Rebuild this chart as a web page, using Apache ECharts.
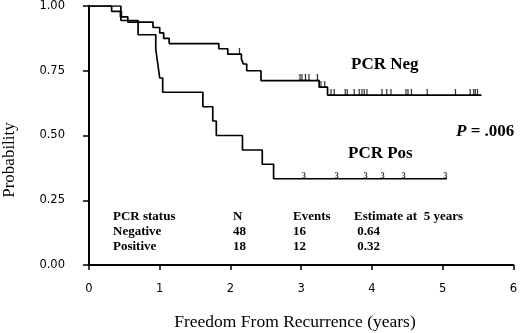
<!DOCTYPE html>
<html>
<head>
<meta charset="utf-8">
<script src="https://cdn.jsdelivr.net/npm/echarts@6/dist/echarts.min.js"></script>
<style>
  html, body { margin: 0; padding: 0; background: #fff; }
  #chart { width: 520px; height: 333px; }
</style>
</head>
<body>
<div id="chart"></div>
<script>
// Kaplan-Meier steps (time in years, survival probability)
const negTimes = [0, 0.32, 0.444, 0.549, 0.905, 1.0, 1.056, 1.134, 1.835, 1.962, 2.155, 2.183, 2.23, 2.432, 3.254, 3.373, 5.55];
const negSurv  = [1, 0.979, 0.958, 0.938, 0.917, 0.896, 0.875, 0.855, 0.835, 0.814, 0.795, 0.776, 0.75, 0.712, 0.6865, 0.656, 0.656];
const posTimes = [0, 0.451, 0.694, 0.944, 0.972, 1.0, 1.042, 1.61, 1.75, 1.80, 2.17, 2.45, 2.61, 5.06];
const posSurv  = [1, 0.944, 0.889, 0.833, 0.778, 0.722, 0.667, 0.611, 0.556, 0.5, 0.444, 0.389, 0.333, 0.333];

// censored observations
const negCensor = [0.46, 2.127, 2.98, 3.01, 3.06, 3.11, 3.23, 3.28, 3.33,
  3.42, 3.465, 3.62, 3.65, 3.75, 3.82, 3.86, 3.89, 3.93, 4.14, 4.21, 4.27,
  4.48, 4.51, 4.56, 4.78, 5.18, 5.39, 5.44, 5.46, 5.49];
const posCensor = [3.04, 3.50, 3.91, 4.15, 4.45, 5.04];

const xTickLabels = ["0", "1", "2", "3", "4", "5", "6"];
const yTickLabels = ["0.00", "0.25", "0.50", "0.75", "1.00"];

const tableRows = [
  ["PCR status", "N", "Events", "Estimate at  5 years"],
  ["Negative", "48", "16", " 0.64"],
  ["Positive", "18", "12", " 0.32"],
];

const serif = "'Liberation Serif', 'Times New Roman', serif";
const sans = "'DejaVu Sans', Verdana, sans-serif";

function stepAt(times, surv, t) {
  let v = surv[0];
  for (let i = 0; i < times.length; i++) {
    if (times[i] <= t) v = surv[i];
  }
  return v;
}

const zip = (a, b) => a.map((v, i) => [v, b[i]]);

const chart = echarts.init(document.getElementById("chart"));

const colX = [113, 233, 293, 354];
const rowY = [216.5, 231.5, 246.5];
const tableGraphics = [];
tableRows.forEach((row, r) => {
  row.forEach((txt, c) => {
    tableGraphics.push({
      type: "text",
      x: colX[c],
      y: rowY[r],
      style: {
        text: txt,
        fill: "#000",
        font: "bold 13px " + serif,
        textAlign: "left",
        textVerticalAlign: "middle",
      },
    });
  });
});

const censorLabel = (ch) => ({
  show: true,
  position: "top",
  distance: -2,
  formatter: ch,
  color: "#000",
  fontSize: 8.5,
  fontWeight: "bold",
  fontFamily: serif,
});

const option = {
  animation: false,
  backgroundColor: "#fff",
  grid: { left: 89, right: 5, top: 5, bottom: 68 },
  xAxis: [
    {
      type: "value", min: 0, max: 6, interval: 1,
      axisLine: { show: true, lineStyle: { color: "#000", width: 2 } },
      axisTick: { show: false }, axisLabel: { show: false }, splitLine: { show: false },
    },
    {
      type: "value", min: 0, max: 6, interval: 1, position: "bottom", offset: 10,
      axisLine: { show: false },
      axisTick: { show: true, length: 5, lineStyle: { color: "#000", width: 1.5 } },
      axisLabel: {
        show: true, margin: 8, color: "#000", fontSize: 11.5, fontFamily: sans,
        formatter: (v) => xTickLabels[Math.round(v)],
      },
      splitLine: { show: false },
    },
  ],
  yAxis: [
    {
      type: "value", min: 0, max: 1, interval: 0.25,
      axisLine: { show: true, lineStyle: { color: "#000", width: 2 } },
      axisTick: { show: false }, axisLabel: { show: false }, splitLine: { show: false },
    },
    {
      type: "value", min: 0, max: 1, interval: 0.25, position: "left", offset: 11,
      axisLine: { show: false },
      axisTick: { show: true, length: 6, lineStyle: { color: "#000", width: 1.5 } },
      axisLabel: {
        show: true, margin: 13, color: "#000", fontSize: 11.5, fontFamily: sans,
        formatter: (v) => yTickLabels[Math.round(v / 0.25)],
      },
      splitLine: { show: false },
    },
  ],
  series: [
    {
      name: "PCR Neg", type: "line", step: "end", showSymbol: false,
      data: zip(negTimes, negSurv),
      lineStyle: { color: "#000", width: 1.7 },
    },
    {
      name: "PCR Pos", type: "line", step: "end", showSymbol: false,
      data: zip(posTimes, posSurv),
      lineStyle: { color: "#000", width: 1.7 },
    },
    {
      type: "scatter", symbol: "rect", symbolSize: 0.1,
      data: negCensor.map((t) => [t, stepAt(negTimes, negSurv, t)]),
      itemStyle: { color: "#000" },
      label: censorLabel("1"),
    },
    {
      type: "scatter", symbol: "rect", symbolSize: 0.1,
      data: posCensor.map((t) => [t, stepAt(posTimes, posSurv, t)]),
      itemStyle: { color: "#000" },
      label: censorLabel("3"),
    },
  ],
  graphic: [
    {
      type: "text", x: 10, y: 160, rotation: Math.PI / 2,
      style: { text: "Probability", fill: "#000", font: "17px " + serif, textAlign: "center", textVerticalAlign: "middle" },
    },
    {
      type: "text", x: 295, y: 322.5,
      style: { text: "Freedom From Recurrence (years)", fill: "#000", font: "17.5px " + serif, textAlign: "center", textVerticalAlign: "middle" },
    },
    {
      type: "text", x: 351, y: 64.2,
      style: { text: "PCR Neg", fill: "#000", font: "bold 17px " + serif, textAlign: "left", textVerticalAlign: "middle" },
    },
    {
      type: "text", x: 348, y: 153.7,
      style: { text: "PCR Pos", fill: "#000", font: "bold 17px " + serif, textAlign: "left", textVerticalAlign: "middle" },
    },
    {
      type: "text", x: 456, y: 131.4,
      style: {
        text: "{i|P}{b| = .006}",
        textAlign: "left", textVerticalAlign: "middle",
        rich: {
          i: { fill: "#000", fontFamily: serif, fontSize: 17, fontWeight: "bold", fontStyle: "italic" },
          b: { fill: "#000", fontFamily: serif, fontSize: 17, fontWeight: "bold" },
        },
      },
    },
    ...tableGraphics,
  ],
};

chart.setOption(option);
</script>
</body>
</html>
